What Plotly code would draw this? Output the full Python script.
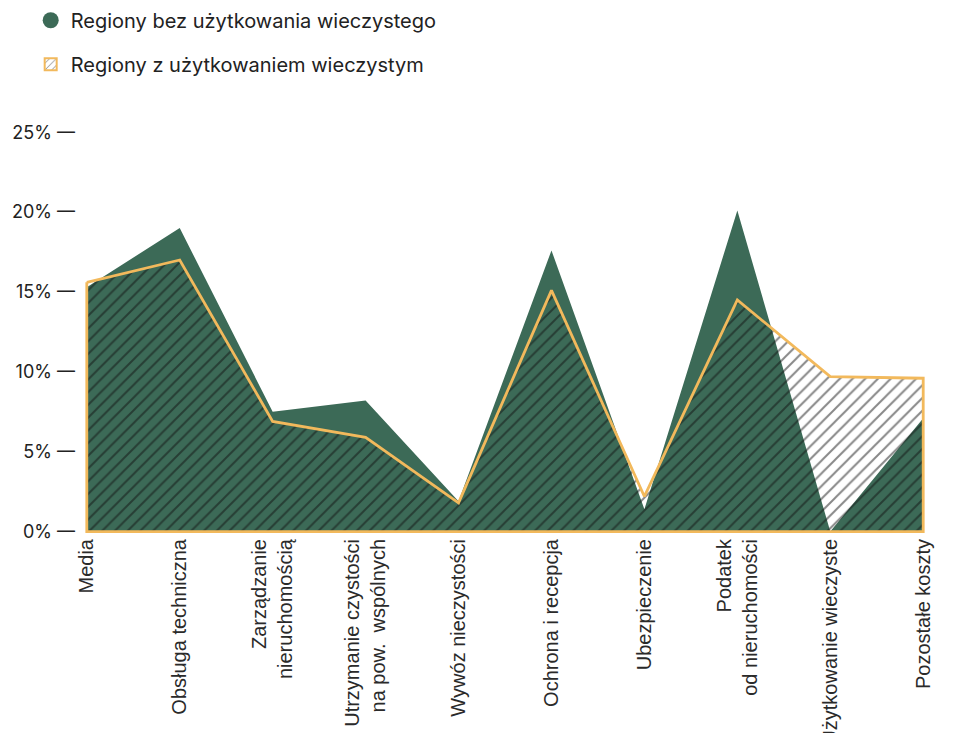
import plotly.graph_objects as go

categories = ["Media", "Obsługa techniczna", "Zarządzanie<br>nieruchomością",
              "Utrzymanie czystości<br>na pow.  wspólnych", "Wywóz nieczystości",
              "Ochrona i recepcja", "Ubezpieczenie", "Podatek<br>od nieruchomości",
              "Użytkowanie wieczyste", "Pozostałe koszty"]
bez_uw = [15.3, 19.0, 7.5, 8.2, 1.9, 17.6, 1.4, 20.1, 0.0, 7.1]
z_uw = [15.6, 17.0, 6.9, 5.9, 1.8, 15.1, 2.2, 14.5, 9.7, 9.6]
y_ticks = [0, 5, 10, 15, 20, 25]

GREEN = "#3c6a57"
ORANGE = "#f2b95c"
TXT = "#222222"
HATCH = dict(shape="/", fgcolor="#111111", bgcolor="rgba(0,0,0,0)",
             size=9, solidity=0.22)

idx = list(range(len(categories)))

fig = go.Figure()
fig.add_trace(go.Scatter(
    x=idx, y=bez_uw, mode="none", fill="tozeroy", fillcolor=GREEN,
    showlegend=False, hoverinfo="skip"))
fig.add_trace(go.Scatter(
    x=[None], y=[None], mode="markers",
    marker=dict(symbol="circle", size=20, color=GREEN),
    name="Regiony bez użytkowania wieczystego", legendgroup="a"))
fig.add_trace(go.Scatter(
    x=idx + [idx[-1], idx[0], idx[0]],
    y=z_uw + [0, 0, z_uw[0]],
    mode="lines", fill="toself", fillcolor="rgba(0,0,0,0)",
    fillpattern=HATCH,
    line=dict(color=ORANGE, width=2.8),
    showlegend=False, hoverinfo="skip"))
fig.add_trace(go.Bar(
    x=[None], y=[None],
    marker=dict(color="white", line=dict(color=ORANGE, width=2),
                pattern=dict(shape="/", fgcolor="#111111", bgcolor="white",
                             size=6, solidity=0.2)),
    name="Regiony z użytkowaniem wieczystym", legendgroup="b"))

fig.update_layout(
    width=959, height=733,
    margin=dict(l=84, r=33, t=129, b=199, autoexpand=False),
    paper_bgcolor="white", plot_bgcolor="white",
    font=dict(family="Liberation Sans, Arial, sans-serif", color=TXT),
    showlegend=True,
    legend=dict(xref="container", yref="container", x=0.032, y=0.999,
                xanchor="left", yanchor="top",
                font=dict(family="Inter, sans-serif", size=20, color=TXT),
                tracegroupgap=15, itemwidth=30),
    xaxis=dict(range=[-0.03, 9.03], tickmode="array", tickvals=idx,
               ticktext=categories, tickangle=-90, showgrid=False,
               zeroline=False, showline=False, ticks="", automargin=False,
               tickfont=dict(size=20, color="#2a2a2a")),
    yaxis=dict(range=[-0.15, 25.2], tickmode="array", tickvals=y_ticks,
               ticktext=[f"{v}% —" for v in y_ticks], showgrid=False,
               zeroline=False, showline=False, ticks="", ticklabelstandoff=8,
               automargin=False,
               tickfont=dict(family="Inter, sans-serif", size=18, color=TXT)),
)

fig.write_html("out.html")
